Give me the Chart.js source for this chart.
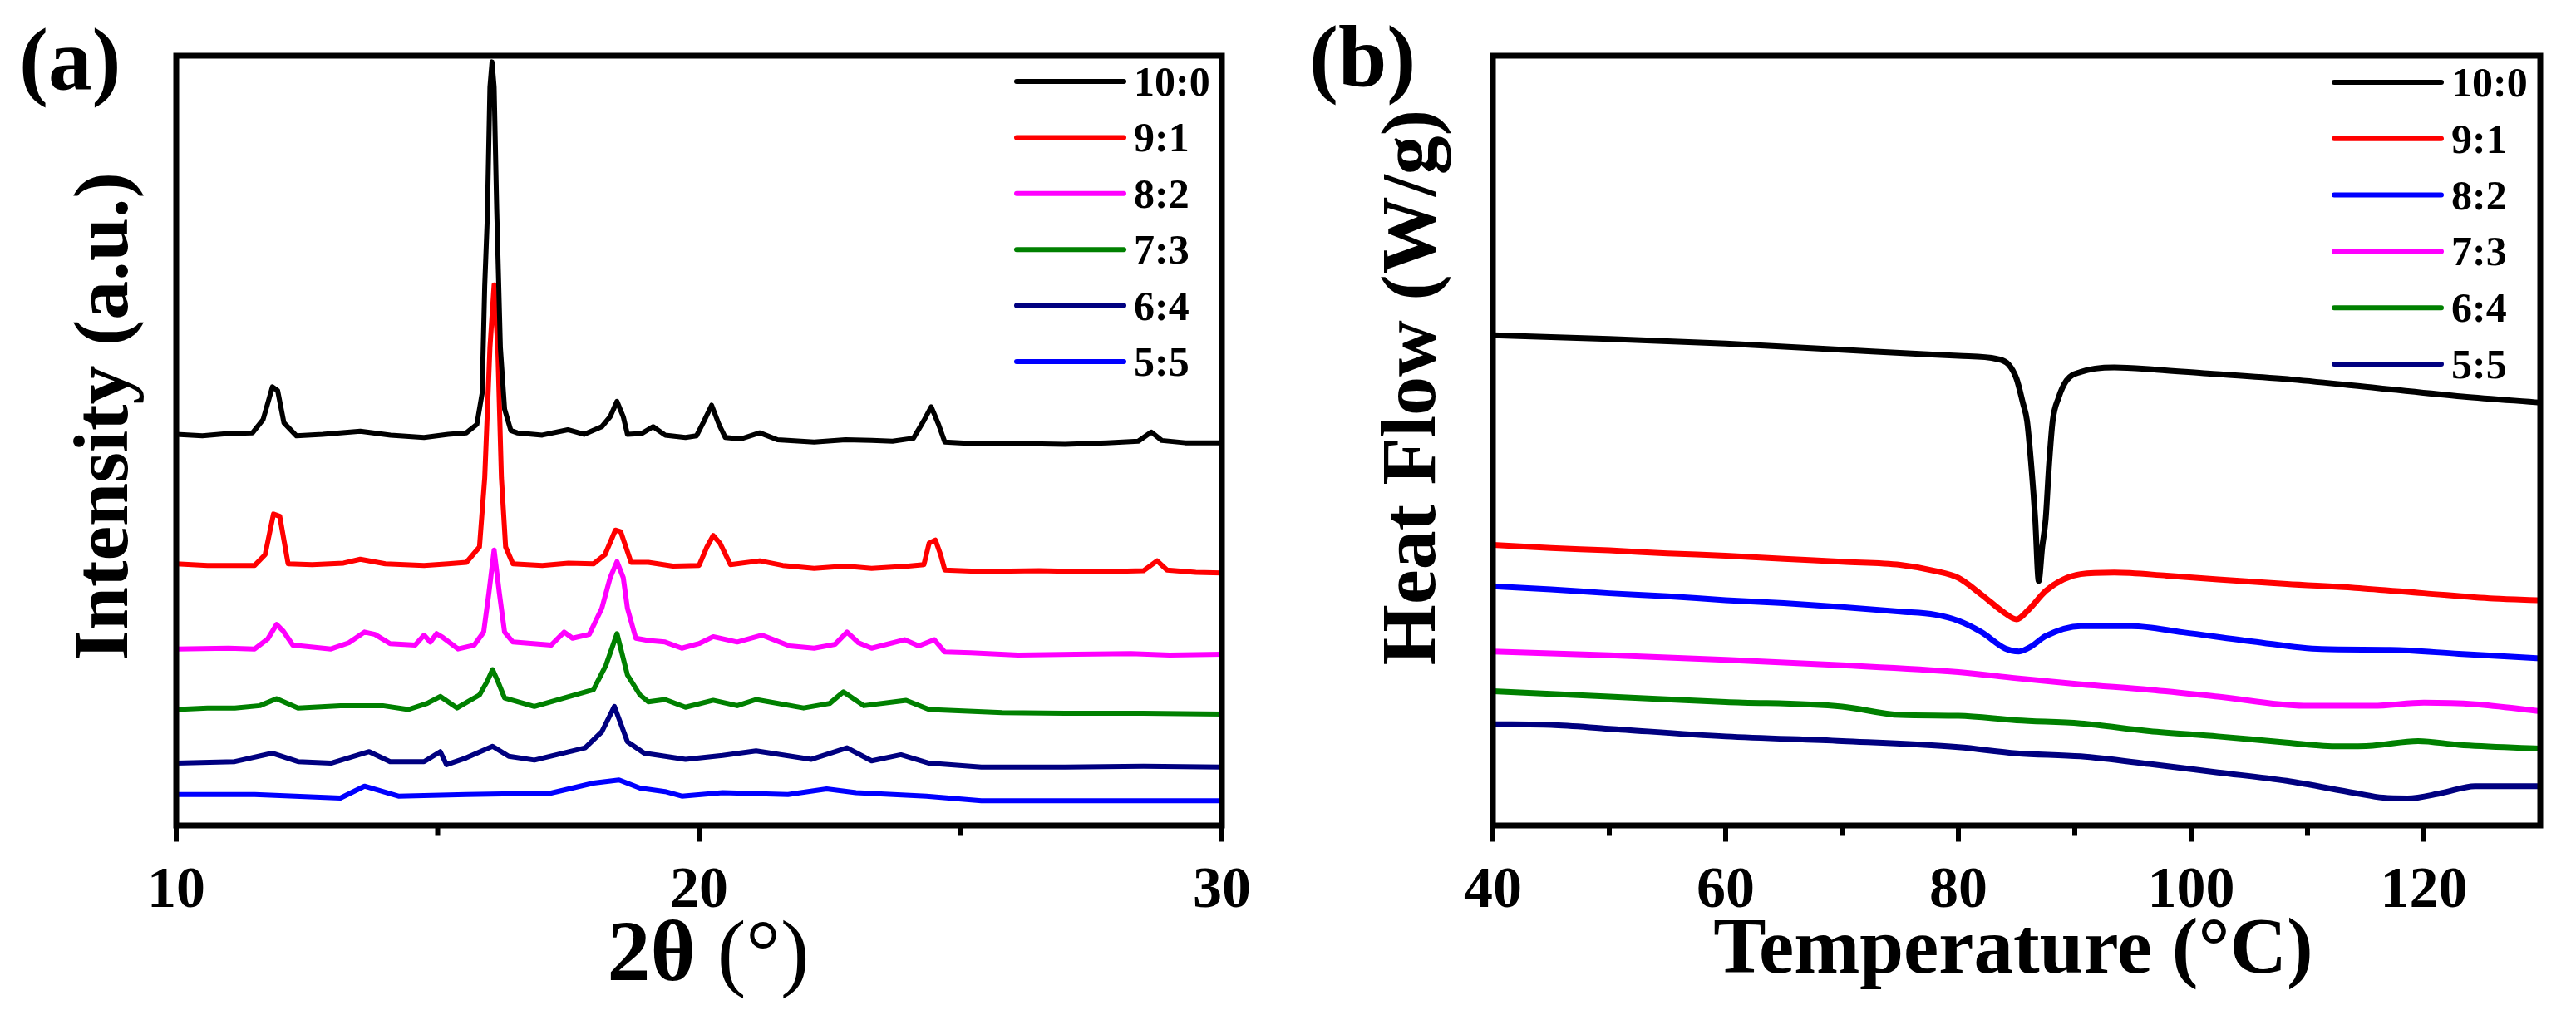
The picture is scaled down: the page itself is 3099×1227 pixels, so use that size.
<!DOCTYPE html>
<html>
<head>
<meta charset="utf-8">
<script src="https://cdn.jsdelivr.net/npm/chart.js@4.4.0/dist/chart.umd.min.js"></script>
<style>
  html, body { margin: 0; padding: 0; background: #fff; }
  #wrap { position: relative; width: 3099px; height: 1227px; }
  canvas { position: absolute; top: 0; }
  #xrd { left: 0; }
  #dsc { left: 1549px; }
</style>
</head>
<body>
<div id="wrap">
  <canvas id="xrd" width="1549" height="1227"></canvas>
  <canvas id="dsc" width="1550" height="1227"></canvas>
</div>
<script>
// ---- (a) XRD patterns, [2theta, stacked intensity (a.u.)] ----
const xrdLabels = ['10:0', '9:1', '8:2', '7:3', '6:4', '5:5'];
const xrdColors = ['#000000', '#ff0000', '#ff00ff', '#008000', '#000080', '#0000ff'];

const xrd10_0 = [[10,50.7],[10.5,50.5],[11,50.8],[11.46,50.9],[11.66,52.6],[11.84,56.9],[11.94,56.4],[12.06,52.2],[12.3,50.5],[12.8,50.7],[13.52,51.1],[14.1,50.6],[14.74,50.3],[15.2,50.7],[15.55,50.9],[15.75,52],[15.85,56],[15.9,70],[15.95,79],[16,96],[16.04,99.3],[16.08,96],[16.13,80],[16.2,62],[16.28,54],[16.4,51.2],[16.52,50.9],[17,50.6],[17.49,51.3],[17.8,50.7],[18.14,51.7],[18.3,53],[18.43,55],[18.55,53],[18.63,50.7],[18.9,50.8],[19.12,51.7],[19.35,50.6],[19.74,50.3],[19.95,50.5],[20.1,52.5],[20.24,54.5],[20.38,52],[20.5,50.3],[20.8,50.1],[21.16,50.9],[21.5,50],[22.2,49.7],[22.8,50],[23.3,49.9],[23.7,49.8],[24.1,50.2],[24.3,52.5],[24.44,54.3],[24.58,52],[24.7,49.7],[25.2,49.5],[26.1,49.5],[27,49.4],[27.8,49.6],[28.4,49.8],[28.65,51],[28.85,49.9],[29.3,49.6],[30,49.6]];
const xrd9_1 = [[10,33.8],[10.6,33.6],[11.5,33.6],[11.7,35],[11.86,40.3],[11.98,40],[12.14,33.8],[12.6,33.7],[13.2,33.9],[13.52,34.4],[14,33.8],[14.74,33.6],[15.2,33.8],[15.55,34],[15.8,36],[15.9,45],[16,62],[16.08,70.2],[16.15,62],[16.22,45],[16.3,36],[16.44,33.8],[17,33.6],[17.5,33.9],[17.98,33.8],[18.2,35],[18.4,38.2],[18.5,38],[18.7,34],[19.03,34],[19.5,33.5],[20,33.6],[20.15,36],[20.27,37.5],[20.4,36.5],[20.6,33.7],[21.16,34.2],[21.6,33.6],[22.2,33.2],[22.8,33.5],[23.3,33.2],[24,33.5],[24.3,33.7],[24.4,36.5],[24.52,36.9],[24.62,35],[24.7,33],[25.4,32.8],[26.5,32.9],[27.55,32.75],[28.5,32.9],[28.76,34.2],[28.95,33],[29.5,32.7],[30,32.6]];
const xrd8_2 = [[10,22.7],[11,22.8],[11.5,22.7],[11.75,24],[11.92,25.9],[12.05,25],[12.23,23.2],[12.96,22.7],[13.3,23.5],[13.6,24.9],[13.8,24.6],[14.09,23.4],[14.57,23.2],[14.74,24.5],[14.86,23.6],[14.98,24.7],[15.1,24.2],[15.39,22.7],[15.7,23.2],[15.88,24.9],[15.98,30],[16.08,35.6],[16.18,30],[16.28,24.9],[16.44,23.6],[17.17,23.2],[17.42,24.9],[17.58,24.1],[17.9,24.6],[18.14,28],[18.3,32],[18.43,34.1],[18.55,32],[18.63,28],[18.79,24.1],[19.03,23.8],[19.35,23.6],[19.67,22.8],[20,23.4],[20.27,24.3],[20.73,23.6],[21.2,24.5],[21.73,23.1],[22.2,22.8],[22.6,23.3],[22.83,24.9],[23.05,23.5],[23.3,22.8],[23.93,23.9],[24.2,23.1],[24.5,23.9],[24.7,22.3],[25.2,22.2],[26.1,21.9],[27.2,22],[28.26,22.1],[29,21.9],[30,22]];
const xrd7_3 = [[10,14.8],[10.6,15],[11.12,15],[11.6,15.3],[11.92,16.2],[12.33,15],[13.14,15.3],[13.95,15.3],[14.44,14.8],[14.8,15.6],[15.05,16.5],[15.37,15],[15.8,16.7],[15.95,18.5],[16.05,20],[16.15,18.5],[16.28,16.3],[16.85,15.2],[17.42,16.3],[17.98,17.4],[18.22,20.6],[18.43,24.7],[18.63,19.3],[18.87,16.7],[19.03,15.8],[19.35,16.1],[19.74,15.1],[20.27,16],[20.73,15.3],[21.09,16.1],[22,15],[22.5,15.6],[22.76,17.1],[23.15,15.3],[23.96,16],[24.4,14.8],[25.8,14.4],[27,14.3],[28.5,14.3],[30,14.2]];
const xrd6_4 = [[10,7.8],[11.12,8],[11.84,9.1],[12.33,8],[12.96,7.8],[13.69,9.3],[14.09,8],[14.74,8],[15.05,9.3],[15.17,7.6],[15.55,8.5],[16.05,10],[16.36,8.7],[16.85,8.2],[17.82,9.8],[18.14,11.9],[18.38,15.2],[18.63,10.6],[18.95,9.1],[19.35,8.7],[19.74,8.3],[20.45,8.8],[21.09,9.4],[22.15,8.3],[22.83,9.8],[23.3,8.1],[23.86,8.9],[24.4,7.8],[25.4,7.3],[27,7.3],[28.5,7.4],[30,7.3]];
const xrd5_5 = [[10,3.7],[11.5,3.7],[13.14,3.25],[13.6,4.8],[14.25,3.5],[15.55,3.7],[17.17,3.9],[17.98,5.2],[18.47,5.6],[18.87,4.55],[19.35,4.1],[19.67,3.5],[20.45,3.95],[21.7,3.7],[22.44,4.45],[23,3.95],[24.35,3.5],[25.4,2.9],[27.5,2.9],[30,2.9]];
const xrdTicks = [10, 20, 30];
const xrdMinor = [15, 25];

// ---- (b) DSC curves, [temperature, stacked heat flow] ----
const dscLabels = ['10:0', '9:1', '8:2', '7:3', '6:4', '5:5'];
const dscColors = ['#000000', '#ff0000', '#0000ff', '#ff00ff', '#008000', '#000080'];

const dsc10_0 = [[40,63.7],[50,63.2],[60,62.6],[70,61.8],[76,61.3],[80,61],[83.3,60.6],[84.3,59.9],[85,58],[85.55,54.8],[85.9,52.5],[86.3,46],[86.6,39.7],[86.9,31.6],[87.2,36],[87.5,39.7],[87.8,47],[88.1,52.5],[88.6,55.5],[89.3,57.8],[90.5,58.9],[93.4,59.5],[97,59.2],[101.4,58.7],[108.7,57.9],[116,56.8],[123.3,55.7],[130,54.9]];
const dsc9_1 = [[40,36.3],[45,35.9],[50,35.6],[55,35.2],[60,34.9],[65,34.5],[70,34.1],[75,33.7],[78,32.9],[80,32],[82,29.8],[84,27.4],[85,26.6],[86,27.8],[87.5,30.3],[89,31.8],[90.5,32.5],[93.4,32.7],[97.9,32.3],[102.3,31.8],[108.2,31.2],[114.1,30.7],[120,30],[126,29.3],[130,29.1]];
const dsc8_2 = [[40,30.9],[45,30.5],[50,30],[55,29.6],[60,29.1],[65,28.7],[70,28.2],[75,27.6],[78,27.2],[80,26.4],[82,24.9],[84,22.8],[85.2,22.4],[86.2,23],[87.5,24.4],[90.5,25.7],[94.9,25.7],[99.3,24.9],[105.3,23.7],[111.2,22.7],[117.1,22.6],[123,22.1],[130,21.5]];
const dsc7_3 = [[40,22.4],[50,21.9],[60,21.3],[70,20.6],[80,19.7],[85,18.9],[90.5,18.1],[96.4,17.4],[102.3,16.5],[109.7,15.3],[115.6,15.3],[120,15.7],[124.4,15.5],[130,14.6]];
const dsc6_4 = [[40,17.2],[50,16.5],[60,15.8],[70,15.2],[75,14.1],[80,14],[85,13.4],[90.5,13],[96.4,12],[102.3,11.3],[108.2,10.5],[112.7,10],[115.6,10.1],[119.5,10.7],[123,10.2],[130,9.7]];
const dsc5_5 = [[40,12.9],[45,12.8],[50,12.3],[60,11.3],[70,10.7],[80,9.9],[85,9.1],[90.5,8.7],[96.4,7.7],[102.3,6.6],[108.2,5.5],[114.1,3.9],[116.5,3.3],[118.6,3.2],[121.5,3.9],[124.4,4.8],[130,4.8]];
const dscTicks = [40, 60, 80, 100, 120];
const dscMinor = [50, 70, 90, 110];

const SERIF = '"Liberation Serif", "Times New Roman", serif';

// frame, ticks, legend and titles drawn over the chart area
const decor = {
  id: 'decor',
  afterDraw(chart, args, o) {
    const { ctx, chartArea: a } = chart;
    const x = chart.scales.x;
    ctx.save();
    ctx.strokeStyle = '#000';
    ctx.lineCap = 'butt';
    ctx.lineWidth = 6;
    const tick = (v, len) => {
      const px = x.getPixelForValue(v);
      ctx.beginPath();
      ctx.moveTo(px, a.bottom);
      ctx.lineTo(px, a.bottom + 3.5 + len);
      ctx.stroke();
    };
    o.major.forEach(v => tick(v, 16));
    o.minor.forEach(v => tick(v, 9));
    ctx.lineWidth = 7;
    ctx.strokeRect(a.left, a.top, a.right - a.left, a.bottom - a.top);

    // legend
    const L = o.legend;
    ctx.font = 'bold 50px ' + SERIF;
    ctx.textAlign = 'left';
    ctx.textBaseline = 'alphabetic';
    ctx.lineWidth = 6;
    ctx.lineCap = 'round';
    chart.data.datasets.forEach((ds, i) => {
      const y = L.y0 + i * L.dy;
      ctx.strokeStyle = ds.borderColor;
      ctx.beginPath();
      ctx.moveTo(L.x0, y);
      ctx.lineTo(L.x1, y);
      ctx.stroke();
      ctx.fillStyle = '#000';
      ctx.fillText(ds.label, L.tx, y + 17);
    });

    // y title (rotated)
    ctx.fillStyle = '#000';
    ctx.save();
    ctx.translate(o.yTitle.x, o.yTitle.y);
    ctx.rotate(-Math.PI / 2);
    ctx.font = 'bold 94px ' + SERIF;
    ctx.textAlign = 'center';
    ctx.fillText(o.yTitle.text, 0, 0);
    ctx.restore();

    // x title, bold part + regular part
    ctx.textAlign = 'left';
    const parts = o.xTitle.parts;
    let w = 0;
    parts.forEach(p => { ctx.font = p.font; w += ctx.measureText(p.text).width; });
    let cx = o.xTitle.x - w / 2;
    parts.forEach(p => {
      ctx.font = p.font;
      ctx.fillText(p.text, cx, o.xTitle.y);
      cx += ctx.measureText(p.text).width;
    });

    // panel label
    ctx.font = 'bold 105px ' + SERIF;
    ctx.fillText(o.panel.text, o.panel.x, o.panel.y);
    ctx.restore();
  }
};

function toPts(arr) {
  return arr.map(([x, y]) => ({ x, y }));
}

function makeChart(id, cfg) {
  const datasets = cfg.series.map((s, i) => ({
    label: cfg.labels[i],
    data: toPts(s),
    borderColor: cfg.colors[i],
    backgroundColor: cfg.colors[i],
    borderWidth: cfg.lineWidth,
    borderJoinStyle: 'round',
    pointRadius: 0,
    tension: 0,
    cubicInterpolationMode: cfg.smooth ? 'monotone' : 'default',
    fill: false,
  }));
  return new Chart(document.getElementById(id), {
    type: 'line',
    data: { datasets },
    options: {
      responsive: false,
      animation: false,
      devicePixelRatio: 1,
      layout: { padding: cfg.padding },
      plugins: {
        legend: { display: false },
        tooltip: { enabled: false },
        decor: cfg.decor,
      },
      scales: {
        x: {
          type: 'linear',
          min: cfg.xMin,
          max: cfg.xMax,
          grid: { display: false },
          border: { display: false },
          afterFit: s => { s.height = 234; },
          afterBuildTicks: s => { s.ticks = cfg.ticks.map(v => ({ value: v })); },
          ticks: {
            color: '#000',
            padding: 30,
            maxRotation: 0,
            font: { family: SERIF, size: 70, weight: 'bold' },
          },
        },
        y: {
          display: false,
          min: cfg.yMin,
          max: cfg.yMax,
        },
      },
    },
    plugins: [decor],
  });
}

makeChart('xrd', {
  series: [xrd10_0, xrd9_1, xrd8_2, xrd7_3, xrd6_4, xrd5_5],
  labels: xrdLabels,
  colors: xrdColors,
  lineWidth: 6,
  smooth: false,
  xMin: 10, xMax: 30, yMin: -0.33, yMax: 100.1,
  ticks: xrdTicks,
  padding: { left: 212, right: 79, top: 67, bottom: 0 },
  decor: {
    major: xrdTicks, minor: xrdMinor,
    legend: { x0: 1223, x1: 1352, tx: 1364, y0: 98, dy: 67.4 },
    yTitle: { text: 'Intensity (a.u.)', x: 153, y: 501 },
    xTitle: { x: 852, y: 1179, parts: [
      { text: '2θ ', font: 'bold 104px ' + SERIF },
      { text: '(°)', font: '104px ' + SERIF },
    ] },
    panel: { text: '(a)', x: 23, y: 107 },
  },
});

makeChart('dsc', {
  series: [dsc10_0, dsc9_1, dsc8_2, dsc7_3, dsc6_4, dsc5_5],
  labels: dscLabels,
  colors: dscColors,
  lineWidth: 7,
  smooth: true,
  xMin: 40, xMax: 130, yMin: -0.33, yMax: 100.2,
  ticks: dscTicks,
  padding: { left: 247, right: 43, top: 67, bottom: 0 },
  decor: {
    major: dscTicks, minor: dscMinor,
    legend: { x0: 1259, x1: 1388, tx: 1400, y0: 99, dy: 67.8 },
    yTitle: { text: 'Heat Flow (W/g)', x: 177, y: 466 },
    xTitle: { x: 873, y: 1170, parts: [
      { text: 'Temperature (°C)', font: 'bold 95px ' + SERIF },
    ] },
    panel: { text: '(b)', x: 26, y: 104 },
  },
});
</script>
</body>
</html>
